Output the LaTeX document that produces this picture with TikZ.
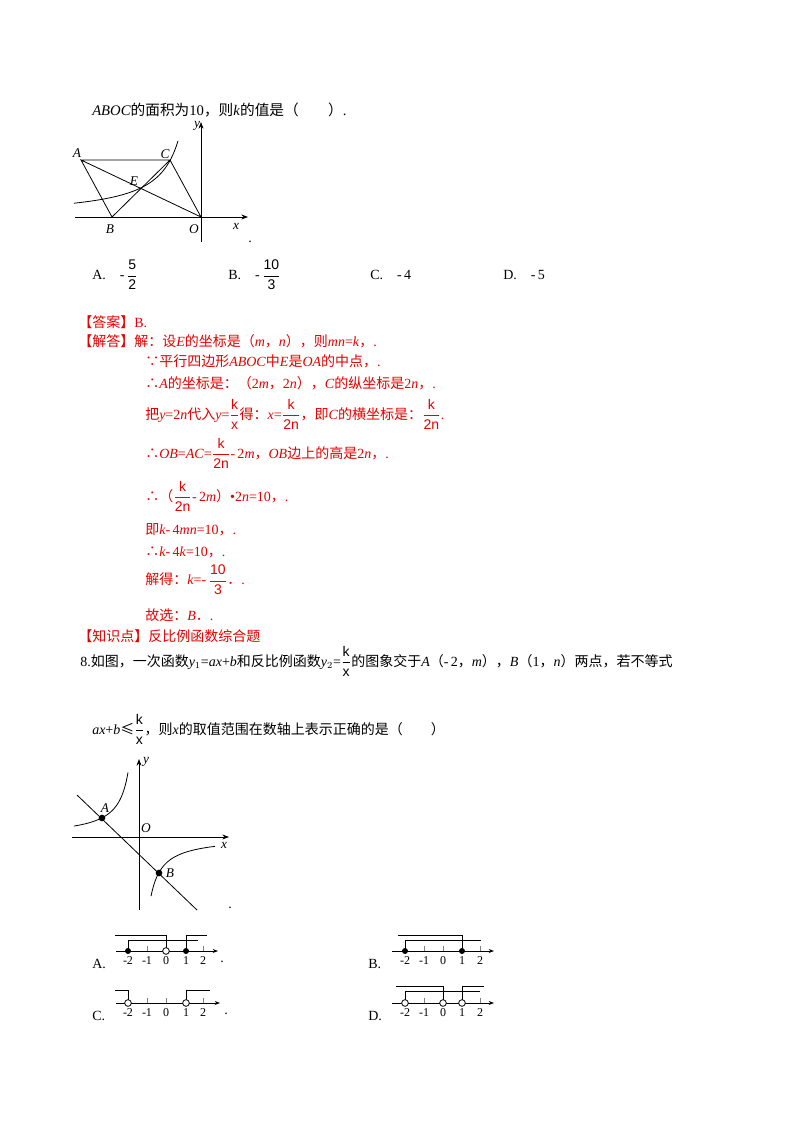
\documentclass[tikz,border=0pt]{standalone}
\usetikzlibrary{arrows.meta}
\usepackage{fontspec}
\setmainfont{Liberation Serif}
\setsansfont{Liberation Sans}
\newfontfamily\cjk{Noto Sans CJK SC}
\newcommand{\zh}[1]{{\cjk #1}}
\newcommand{\fr}[2]{$\dfrac{\mathsf{#1}}{\mathsf{#2}}$}
\usepackage{amsmath}
\definecolor{ans}{RGB}{230,0,0}
\begin{document}
\begin{tikzpicture}[x=0.75pt,y=-0.75pt,font=\fontsize{10.5}{12}\selectfont,
  txt/.style={anchor=west,inner sep=0pt},
  rtxt/.style={txt,text=ans},
  ax/.style={line width=0.6pt,-{Stealth[length=5pt]}},
  fig/.style={line width=0.6pt},
  lab/.style={inner sep=0pt,font=\fontsize{10}{12}\selectfont\itshape},
  nl/.style={line width=0.6pt,-{Stealth[length=4pt]}},
  tk/.style={line width=0.3pt,gray},
  br/.style={line width=0.7pt},
  fd/.style={circle,fill=black,inner sep=0pt,minimum size=4.5pt},
  od/.style={circle,draw=black,fill=white,line width=0.6pt,inner sep=0pt,minimum size=5pt},
  nlab/.style={inner sep=0pt,font=\fontsize{9}{10}\selectfont}]
\useasboundingbox (0,0) rectangle (800,1132);
\fill[white] (0,0) rectangle (800,1132);

% header line
\node[txt,font=\fontsize{11}{12}\selectfont] (t0) at (92,110) {\textit{ABOC}\zh{的面积为}10\zh{，则}\textit{k}\zh{的值是（　　）}.};

% figure 1
\coordinate (O1) at (201,217);
\coordinate (A1) at (81,160);
\coordinate (B1) at (112,217);
\coordinate (C1) at (170,160);
\coordinate (E1) at (140,188);
\draw[ax] (75,217) -- (248,217);
\draw[ax] (201,242) -- (201,122);
\draw[fig,domain=-127:-23,samples=60] plot ({201+\x},{217+1750/\x});
\draw[fig] (A1) -- (C1) -- (O1) -- (A1) -- (B1) -- (C1);
\node[lab] (la) at (77,153) {A};
\node[lab] (lc) at (165,154) {C};
\node[lab] (le) at (134,181) {E};
\node[lab] (lb) at (110,229) {B};
\node[lab] (lo) at (194,229) {O};
\node[lab] (lx) at (236,226) {x};
\node[lab] (ly) at (197,126) {y};
\node[inner sep=0pt] (dot1) at (250,242) {.};

% options Q7
\node[txt] (o7a) at (92,275) {A.\quad -\,\fr{5}{2}};
\node[txt] (o7b) at (228,275) {B.\quad -\,\fr{10}{3}};
\node[txt] (o7c) at (370,275) {C.\quad -\,4};
\node[txt] (o7d) at (503,275) {D.\quad -\,5};

% solution
\node[rtxt] (s0) at (78,322) {\zh{【答案】}B.};
\node[rtxt] (s1) at (78,341) {\zh{【解答】解：设}\textit{E}\zh{的坐标是（}\textit{m}\zh{，}\textit{n}\zh{），则}\textit{mn}=\textit{k}\zh{，}.};
\node[rtxt] (s2) at (145,361) {\zh{∵平行四边形}\textit{ABOC}\zh{中}\textit{E}\zh{是}\textit{OA}\zh{的中点，}.};
\node[rtxt] (s3) at (145,383) {\zh{∴}\textit{A}\zh{的坐标是：（}2\textit{m}\zh{，}2\textit{n}\zh{），}\textit{C}\zh{的纵坐标是}2\textit{n}\zh{，}.};
\node[rtxt] (s4) at (145,414) {\zh{把}\textit{y}=2\textit{n}\zh{代入}\textit{y}=\fr{k}{x}\zh{得：}\textit{x}=\fr{k}{2n}\zh{，即}\textit{C}\zh{的横坐标是：}\fr{k}{2n}.};
\node[rtxt] (s5) at (145,453) {\zh{∴}\textit{OB}=\textit{AC}=\fr{k}{2n}-\,2\textit{m}\zh{，}\textit{OB}\zh{边上的高是}2\textit{n}\zh{，}.};
\node[rtxt] (s6) at (145,496) {\zh{∴（}\fr{k}{2n}-\,2\textit{m}\zh{）}\textbullet2\textit{n}=10\zh{，}.};
\node[rtxt] (s7) at (145,530) {\zh{即}\textit{k}-\,4\textit{mn}=10\zh{，}.};
\node[rtxt] (s8) at (145,552) {\zh{∴}\textit{k}-\,4\textit{k}=10\zh{，}.};
\node[rtxt] (s9) at (145,580) {\zh{解得：}\textit{k}=-\,\fr{10}{3}\zh{．}.};
\node[rtxt] (s10) at (145,615) {\zh{故选：}\textit{B}\zh{．}.};
\node[rtxt] (s11) at (78,636) {\zh{【知识点】反比例函数综合题}};

% Q8
\node[txt] (q8) at (80,661) {8.\zh{如图，一次函数}\textit{y}$_1$=\textit{ax}+\textit{b}\zh{和反比例函数}\textit{y}$_2$=\fr{k}{x}\zh{的图象交于}\textit{A}\zh{（}-\,2\zh{，}\textit{m}\zh{），}\textit{B}\zh{（}1\zh{，}\textit{n}\zh{）两点，若不等式}};
\node[txt] (q8b) at (92,729) {\textit{ax}+\textit{b}\zh{≤}\fr{k}{x}\zh{，则}\textit{x}\zh{的取值范围在数轴上表示正确的是（　　）}};

% figure 2
\coordinate (O2) at (139,837);
\draw[ax] (72,837) -- (229,837);
\draw[ax] (139,910) -- (139,759);
\draw[fig,domain=-65:-11,samples=60] plot ({139+\x},{837+710/\x});
\draw[fig,domain=12:76,samples=60] plot ({139+\x},{837+710/\x});
\draw[fig] (77,795) -- (197,910);
\node[fd,minimum size=5pt] (A2) at (102,818) {};
\node[fd,minimum size=5pt] (B2) at (159,873) {};
\node[lab] (la2) at (105,808) {A};
\node[lab] (lo2) at (146,828) {O};
\node[lab] (lb2) at (170,873) {B};
\node[lab] (lx2) at (224,845) {x};
\node[lab] (ly2) at (146,762) {y};
\node[inner sep=0pt] (dot2) at (230,908) {.};

% number line A
\begin{scope}
\draw[nl] (116,951) -- (218,951);
\foreach \v/\p in {-2/128,-1/147,0/166,1/186,2/203} {
  \draw[tk] (\p,951) -- (\p,946);
  \node[nlab] at (\p,961) {\v};}
\draw[br] (115,935) -- (166,935) -- (166,951);
\draw[br] (128,951) -- (128,940) -- (198,940);
\draw[br] (186,951) -- (186,935) -- (207,935);
\node[fd] (a1) at (128,951) {};
\node[od] (a2) at (166,951) {};
\node[fd] (a3) at (186,951) {};
\node[txt] (la) at (92,964) {A.};
\node[inner sep=0pt] at (222,962) {.};
\end{scope}

% number line B
\begin{scope}
\draw[nl] (392,951) -- (494,951);
\foreach \v/\p in {-2/405,-1/424,0/443,1/462,2/480} {
  \draw[tk] (\p,951) -- (\p,946);
  \node[nlab] at (\p,961) {\v};}
\draw[br] (398,935) -- (462,935) -- (462,951);
\draw[br] (405,951) -- (405,940) -- (481,940);
\node[fd] (b1) at (405,951) {};
\node[fd] (b2) at (462,951) {};
\node[txt] (lbb) at (368,964) {B.};
\end{scope}

% number line C
\begin{scope}
\draw[nl] (116,1003) -- (220,1003);
\foreach \v/\p in {-2/128,-1/147,0/166,1/186,2/203} {
  \draw[tk] (\p,1003) -- (\p,998);
  \node[nlab] at (\p,1013) {\v};}
\draw[br] (115,990) -- (128,990) -- (128,1003);
\draw[br] (186,1003) -- (186,990) -- (210,990);
\node[od] (c1) at (128,1003) {};
\node[od] (c2) at (186,1003) {};
\node[txt] (lcc) at (92,1016) {C.};
\node[inner sep=0pt] at (226,1014) {.};
\end{scope}

% number line D
\begin{scope}
\draw[nl] (392,1003) -- (494,1003);
\foreach \v/\p in {-2/405,-1/424,0/443,1/462,2/480} {
  \draw[tk] (\p,1003) -- (\p,998);
  \node[nlab] at (\p,1013) {\v};}
\draw[br] (396,986) -- (443,986) -- (443,1003);
\draw[br] (405,1003) -- (405,991) -- (480,991);
\draw[br] (462,1003) -- (462,986) -- (484,986);
\node[od] (d1) at (405,1003) {};
\node[od] (d2) at (443,1003) {};
\node[od] (d3) at (462,1003) {};
\node[txt] (ldd) at (368,1016) {D.};
\end{scope}
\end{tikzpicture}
\end{document}
